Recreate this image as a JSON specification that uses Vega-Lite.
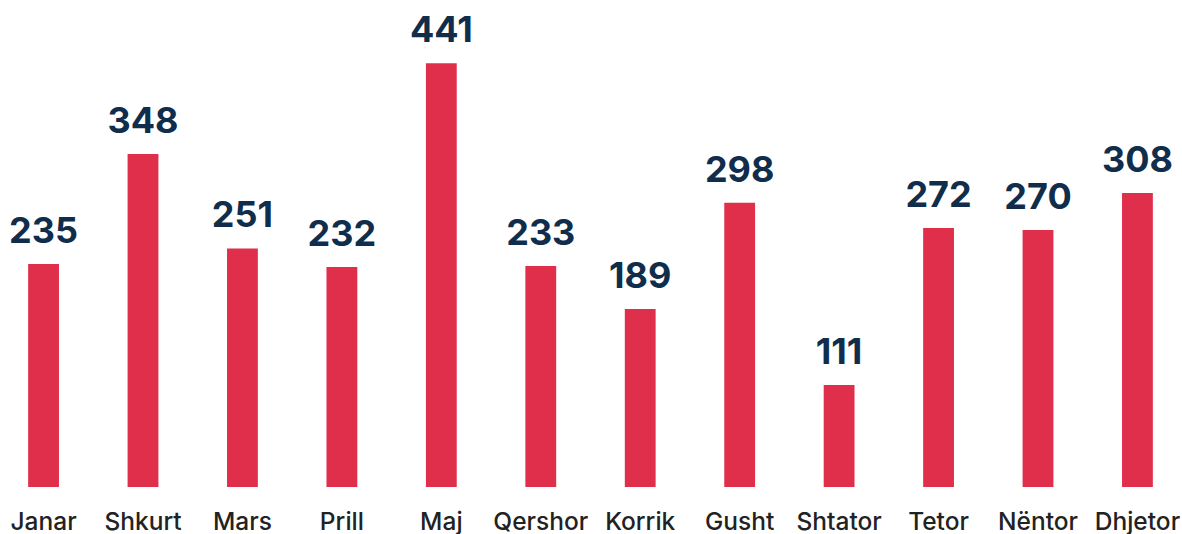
{
  "$schema": "https://vega.github.io/schema/vega-lite/v6.json",
  "width": 1181,
  "height": 487,
  "autosize": {"type": "none"},
  "padding": {"left": 0, "top": 0, "right": 1, "bottom": 47},
  "background": "white",
  "config": {"view": {"stroke": null}},
  "data": {"values": [
    {"month": "Janar", "value": 235},
    {"month": "Shkurt", "value": 348},
    {"month": "Mars", "value": 251},
    {"month": "Prill", "value": 232},
    {"month": "Maj", "value": 441},
    {"month": "Qershor", "value": 233},
    {"month": "Korrik", "value": 189},
    {"month": "Gusht", "value": 298},
    {"month": "Shtator", "value": 111},
    {"month": "Tetor", "value": 272},
    {"month": "Nëntor", "value": 270},
    {"month": "Dhjetor", "value": 308}
  ]},
  "encoding": {
    "x": {"field": "month", "type": "nominal", "sort": null,
      "scale": {"paddingInner": 0.69, "paddingOuter": 0.283},
      "axis": {"title": null, "domain": false, "ticks": false, "labelAngle": 0,
        "labelFont": "Inter", "labelFontSize": 24.5, "labelColor": "#222222",
        "labelPadding": 23, "labelFontWeight": 500}},
    "y": {"field": "value", "type": "quantitative",
      "scale": {"domain": [6.4, 505.8], "zero": false, "nice": false},
      "axis": null}
  },
  "layer": [
    {"mark": {"type": "bar", "color": "#E02F4B", "clip": true}},
    {"mark": {"type": "text", "font": "Inter", "fontSize": 36, "fontWeight": "bold",
      "color": "#102D4B", "baseline": "alphabetic", "dy": -21},
     "encoding": {"text": {"field": "value", "type": "quantitative"}}}
  ]
}
